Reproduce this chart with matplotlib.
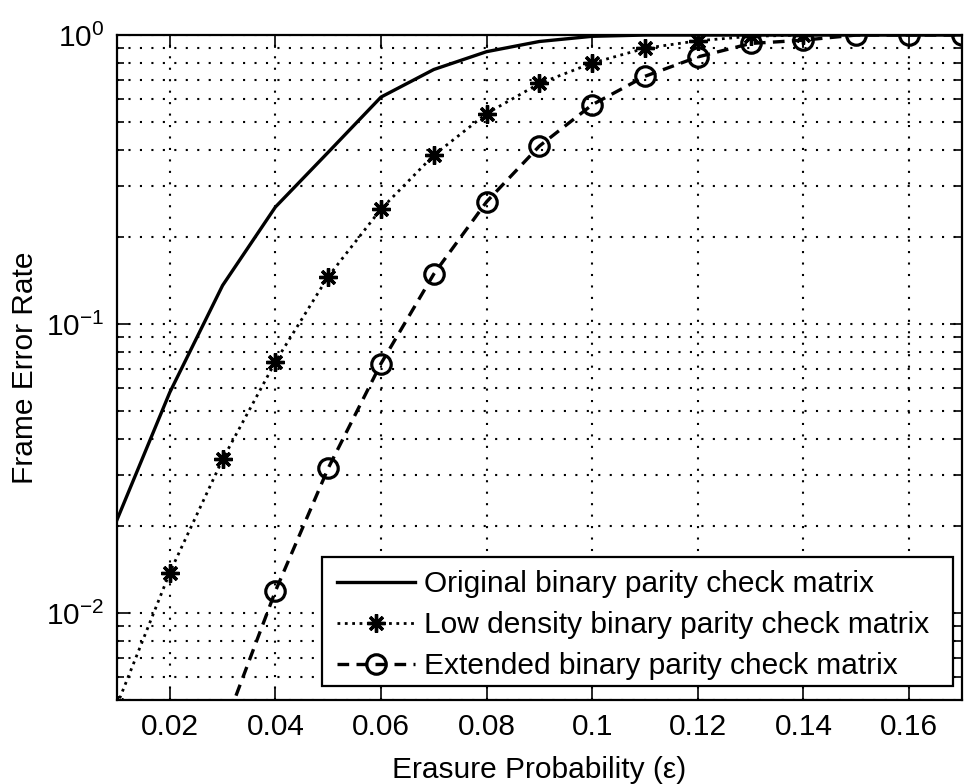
import numpy as np
import matplotlib
matplotlib.use("Agg")
import matplotlib.pyplot as plt
from matplotlib.patches import Rectangle
from matplotlib.ticker import LogLocator, NullFormatter

plt.rcParams['font.family'] = ['Liberation Sans', 'DejaVu Sans']
plt.rcParams['mathtext.fontset'] = 'custom'
plt.rcParams['mathtext.rm'] = 'Liberation Sans'
plt.rcParams['mathtext.it'] = 'Liberation Sans'

# frame error rate vs erasure probability
eps_orig = [0.01, 0.02, 0.03, 0.04, 0.05, 0.06, 0.07, 0.08, 0.09, 0.10,
            0.11, 0.12, 0.13, 0.14, 0.15, 0.16, 0.17]
fer_orig = [0.021, 0.058, 0.136, 0.254, 0.393, 0.61, 0.76, 0.876, 0.95, 0.99,
            1.0, 1.0, 1.0, 1.0, 1.0, 1.0, 1.0]

eps_low = [0.01, 0.02, 0.03, 0.04, 0.05, 0.06, 0.07, 0.08, 0.09, 0.10,
           0.11, 0.12, 0.13, 0.14]
fer_low = [0.0048, 0.0138, 0.034, 0.074, 0.146, 0.25, 0.384, 0.535, 0.68, 0.80,
           0.90, 0.955, 0.99, 1.0]

eps_ext = [0.03, 0.04, 0.05, 0.06, 0.07, 0.08, 0.09, 0.10, 0.11, 0.12,
           0.13, 0.14, 0.15, 0.16, 0.17]
fer_ext = [0.0039, 0.0119, 0.0317, 0.073, 0.149, 0.265, 0.413, 0.574, 0.72, 0.84,
           0.935, 0.96, 1.0, 1.0, 1.0]

xticks = [0.02, 0.04, 0.06, 0.08, 0.10, 0.12, 0.14, 0.16]
xticklabels = ['0.02', '0.04', '0.06', '0.08', '0.1', '0.12', '0.14', '0.16']

labels = ["Original binary parity check matrix",
          "Low density binary parity check matrix",
          "Extended binary parity check matrix"]

fs = 21.5
grid_style = (0, (1, 4.5))

fig = plt.figure(figsize=(9.73, 7.84), dpi=100)
ax = fig.add_axes([0.1202, 0.1071, 0.8684, 0.8482])

ax.plot(eps_orig, fer_orig, '-', color='black', lw=2.4, label=labels[0])
ax.plot(eps_low, fer_low, ':', color='black', lw=2.0, marker=(8, 2, 0),
        markersize=13, markeredgewidth=2.4, label=labels[1])
ax.plot(eps_ext, fer_ext, '--', color='black', lw=2.4, marker='o',
        markersize=14, markerfacecolor='none', markeredgewidth=2.3,
        dashes=(3.5, 2.2), label=labels[2])

ax.set_yscale('log')
ax.set_xlim(0.01, 0.17)
ax.set_ylim(0.005, 1.0)

ax.set_xticks(xticks)
ax.set_xticklabels(xticklabels)
ax.yaxis.set_major_locator(LogLocator(base=10, numticks=10))
ax.yaxis.set_minor_locator(LogLocator(base=10, subs=np.arange(2, 10), numticks=20))
ax.yaxis.set_minor_formatter(NullFormatter())

ax.grid(True, which='major', linestyle=grid_style, color='black', lw=1.5)
ax.grid(True, which='minor', axis='y', linestyle=grid_style, color='black', lw=1.5)

ax.tick_params(which='both', direction='in', top=True, right=True,
               labelsize=fs, colors='black', width=1.2)
ax.tick_params(which='major', length=9, pad=9)
ax.tick_params(which='minor', length=5)
for s in ax.spines.values():
    s.set_linewidth(1.6)

ax.set_xlabel('Erasure Probability (ε)', fontsize=fs, labelpad=11)
ax.set_ylabel('Frame Error Rate', fontsize=fs, labelpad=5)

# legend box drawn separately so it can be wider than its contents
box = Rectangle((0.2426, 0.0211), 0.7467, 0.1939, transform=ax.transAxes,
                facecolor='white', edgecolor='black', lw=1.6, zorder=4.5)
ax.add_patch(box)
leg = ax.legend(loc='upper left', bbox_to_anchor=(0.2604, 0.1955),
                borderaxespad=0, borderpad=0, fontsize=fs, frameon=False,
                handlelength=2.6, handletextpad=0.3, labelspacing=0.44,
                numpoints=1)
leg.set_zorder(5)

fig.savefig('out.png', dpi=100, facecolor='white')
